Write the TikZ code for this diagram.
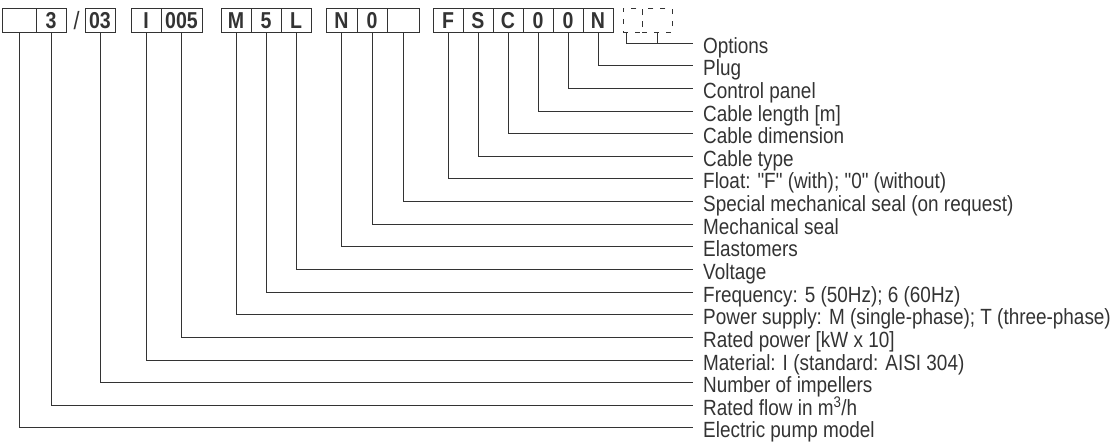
\documentclass[tikz,border=0pt]{standalone}
\usepackage{fontspec}
\setmainfont{Liberation Sans}
\newfontfamily\labfont{Liberation Sans}[FakeStretch=0.86]
\newfontfamily\boxfont{Liberation Sans Bold}[FakeStretch=0.85]
\definecolor{ink}{HTML}{333333}
\tikzset{
  cell/.style={draw=ink, line width=1pt, minimum height=23.3pt, inner sep=0pt, font=\boxfont\fontsize{23}{23}\selectfont, text=ink},
  lab/.style={anchor=base west, inner sep=0pt, font=\labfont\fontsize{22}{22}\selectfont, text=ink},
  ln/.style={draw=ink, line width=1pt},
  dcell/.style={draw=ink, line width=1pt, dash pattern=on 5pt off 7pt, minimum height=23.3pt, inner sep=0pt}
}
\begin{document}
\begin{tikzpicture}[x=1pt,y=-1pt]
\useasboundingbox (0,0) rectangle (1111,445);
% cells: name/left/right/text
\foreach \n/\a/\b/\t in {c1/2.7/36/{}, c2/36/66/3, c3/85/115/03, c4/131/161/I, c5/161/202/005,
  c6/221/251/M, c7/251/281/5, c8/281/311/L, c9/326/357/N, c10/357/387/0, c11/387/419/{},
  c12/433/463/F, c13/463/493/S, c14/493/523/C, c15/523/553/0, c16/553/583/0, c17/583/613/N}{
  \pgfmathsetmacro\cx{(\a+\b)/2}
  \pgfmathsetmacro\w{\b-\a}
  \node[cell, minimum width=\w pt] (\n) at (\cx,20.35) {\t};
}
\node[text=ink, inner sep=0pt, font=\labfont\fontsize{25}{25}\selectfont] (sl) at (76.5,20.35) {/};
% dashed option cells
\node[dcell, minimum width=19pt] (o1) at (632.5,20.35) {};
\node[dcell, minimum width=30pt] (o2) at (657,20.35) {};
% labels and leader ends
\foreach \i/\c/\y/\t in {
  2/c17/65.6/Plug,
  3/c16/88.3/Control panel,
  4/c15/111/{Cable length [m]},
  5/c14/133.6/Cable dimension,
  6/c13/156.3/Cable type,
  7/c12/178.9/{Float: "F" (with); "0" (without)},
  8/c11/201.5/{Special mechanical seal (on request)},
  9/c10/224.1/Mechanical seal,
  10/c9/246.8/Elastomers,
  11/c8/269.4/Voltage,
  12/c7/292/{Frequency: 5 (50Hz); 6 (60Hz)},
  13/c6/314.7/{Power supply: M (single-phase); T (three-phase)},
  14/c5/337.3/{Rated power [kW x 10]},
  15/c4/360/{Material: I (standard: AISI 304)},
  16/c3/382.6/Number of impellers,
  17/c2/405.2/{Rated flow in m\textsuperscript{3}/h},
  18/c1/427.9/Electric pump model}{
  \coordinate (e\i) at (693,\y);
  \node[lab] (l\i) at (703,\y+10) {\t};
  \draw[ln] (\c.south) |- (e\i);
}
% options
\coordinate (e1) at (693,43);
\node[lab] (l1) at (703,53) {Options};
\coordinate (t1) at (626,43);
\coordinate (t2) at (657,43);
\draw[ln] (o1.south west -| t1) -- (t1) -- (e1);
\draw[ln] (o2.south west -| t2) -- (t2);
\end{tikzpicture}
\end{document}
